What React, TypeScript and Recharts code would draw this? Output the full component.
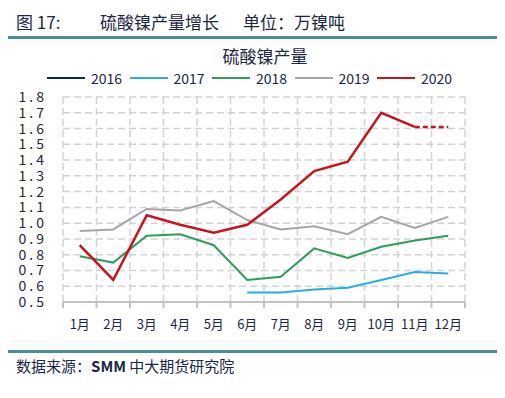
import React from "react";
import { LineChart, Line, XAxis, YAxis, CartesianGrid, ReferenceLine } from "recharts";

const months = ["1月", "2月", "3月", "4月", "5月", "6月", "7月", "8月", "9月", "10月", "11月", "12月"];
const bounds = [0.5, 1.5, 2.5, 3.5, 4.5, 5.5, 6.5, 7.5, 8.5, 9.5, 10.5, 11.5, 12.5];
const yTicks = [0.5, 0.6, 0.7, 0.8, 0.9, 1.0, 1.1, 1.2, 1.3, 1.4, 1.5, 1.6, 1.7, 1.8];

const s2016: (number | null)[] = [null, null, null, null, null, null, null, null, null, null, null, null];
const s2017 = [null, null, null, null, null, 0.56, 0.56, 0.58, 0.59, 0.64, 0.69, 0.68];
const s2018 = [0.79, 0.75, 0.92, 0.93, 0.86, 0.64, 0.66, 0.84, 0.78, 0.85, 0.89, 0.92];
const s2019 = [0.95, 0.96, 1.09, 1.08, 1.14, 1.02, 0.96, 0.98, 0.93, 1.04, 0.97, 1.04];
const s2020 = [0.86, 0.64, 1.05, 0.99, 0.94, 0.99, 1.15, 1.33, 1.39, 1.7, 1.61, null];
const s2020est = [null, null, null, null, null, null, null, null, null, null, 1.61, 1.61];

const series = [
  { key: "y2016", name: "2016", color: "#14284b", width: 2 },
  { key: "y2017", name: "2017", color: "#27b0df", width: 2 },
  { key: "y2018", name: "2018", color: "#2f9e5c", width: 2 },
  { key: "y2019", name: "2019", color: "#a6a6a6", width: 2 },
  { key: "y2020", name: "2020", color: "#c8141e", width: 2.5 },
];

const data = months.map((m, i) => ({
  x: i + 1,
  month: m,
  y2016: s2016[i],
  y2017: s2017[i],
  y2018: s2018[i],
  y2019: s2019[i],
  y2020: s2020[i],
  y2020e: s2020est[i],
}));

const font = '"Noto Sans CJK SC", "Noto Sans", sans-serif';
const textColor = "#1b2744";
const teal = "#4f8c96";
const axisGray = "#c2c2c2";

export default function App() {
  return (
    <div
      style={{
        position: "relative",
        width: 505,
        height: 398,
        margin: -8,
        background: "#fff",
        fontFamily: font,
        color: textColor,
        overflow: "hidden",
      }}
    >
      <div style={{ position: "absolute", left: 16, top: 10, fontSize: 17, lineHeight: "24px" }}>图 17:</div>
      <div style={{ position: "absolute", left: 100, top: 10, fontSize: 17, lineHeight: "24px" }}>硫酸镍产量增长</div>
      <div style={{ position: "absolute", left: 243, top: 10, fontSize: 17, lineHeight: "24px" }}>单位：万镍吨</div>
      <div style={{ position: "absolute", left: 4, top: 36, width: 496, height: 3, background: teal }} />
      <div
        style={{
          position: "absolute",
          left: 0,
          width: 530,
          top: 44,
          textAlign: "center",
          fontSize: 17,
          lineHeight: "24px",
        }}
      >
        硫酸镍产量
      </div>
      <div style={{ position: "absolute", left: 47, top: 68, display: "flex" }}>
        {series.map((s) => (
          <div key={s.key} style={{ width: 82.5, display: "flex", alignItems: "center", height: 20 }}>
            <svg width={38} height={4} style={{ marginRight: 6 }}>
              <line x1={0} y1={2} x2={38} y2={2} stroke={s.color} strokeWidth={2} />
            </svg>
            <span style={{ fontSize: 14, lineHeight: "20px" }}>{s.name}</span>
          </div>
        ))}
      </div>

      <div style={{ position: "absolute", left: 0, top: 0 }}>
        <LineChart width={505} height={398} data={data} margin={{ top: 97, right: 40, bottom: 94, left: 0 }}>
          <CartesianGrid
            xAxisId="g"
            stroke="#d3d3d3"
            strokeWidth={1.5}
            strokeDasharray="7 4"
          />
          <XAxis
            xAxisId="g"
            type="number"
            dataKey="x"
            domain={[0.5, 12.5]}
            ticks={bounds}
            height={1}
            interval={0}
            tickSize={6}
            tickFormatter={() => ""}
            axisLine={{ stroke: axisGray, strokeWidth: 2 }}
            tickLine={{ stroke: axisGray, strokeWidth: 2 }}
          />
          <XAxis
            xAxisId="m"
            type="number"
            dataKey="x"
            domain={[0.5, 12.5]}
            ticks={data.map((d) => d.x)}
            interval={0}
            height={1}
            tickSize={0}
            tickMargin={17}
            axisLine={false}
            tickLine={false}
            tickFormatter={(v: number) => months[v - 1]}
            tick={{ fontSize: 13, fill: textColor, fontFamily: font }}
          />
          <YAxis
            type="number"
            domain={[0.5, 1.8]}
            ticks={yTicks}
            interval={0}
            width={63}
            tickSize={0}
            tickMargin={16}
            axisLine={false}
            tickLine={false}
            tickFormatter={(v: number) => v.toFixed(1)}
            tick={{ fontSize: 14, fill: textColor, fontFamily: font, letterSpacing: 3 }}
          />
          <ReferenceLine xAxisId="m" y={0.5} stroke={axisGray} strokeWidth={2} />
          {series.map((s) => (
            <Line
              key={s.key}
              xAxisId="m"
              type="linear"
              dataKey={s.key}
              stroke={s.color}
              strokeWidth={s.width}
              dot={false}
              activeDot={false}
              isAnimationActive={false}
            />
          ))}
          <Line
            xAxisId="m"
            type="linear"
            dataKey="y2020e"
            stroke="#c8141e"
            strokeWidth={2.5}
            strokeDasharray="5 3"
            dot={false}
            activeDot={false}
            isAnimationActive={false}
          />
        </LineChart>
      </div>

      <div style={{ position: "absolute", left: 4, top: 350, width: 496, height: 3, background: teal }} />
      <div style={{ position: "absolute", left: 16, top: 355, fontSize: 15, lineHeight: "22px", whiteSpace: "pre" }}>
        数据来源：<b>SMM</b> 中大期货研究院
      </div>
    </div>
  );
}
